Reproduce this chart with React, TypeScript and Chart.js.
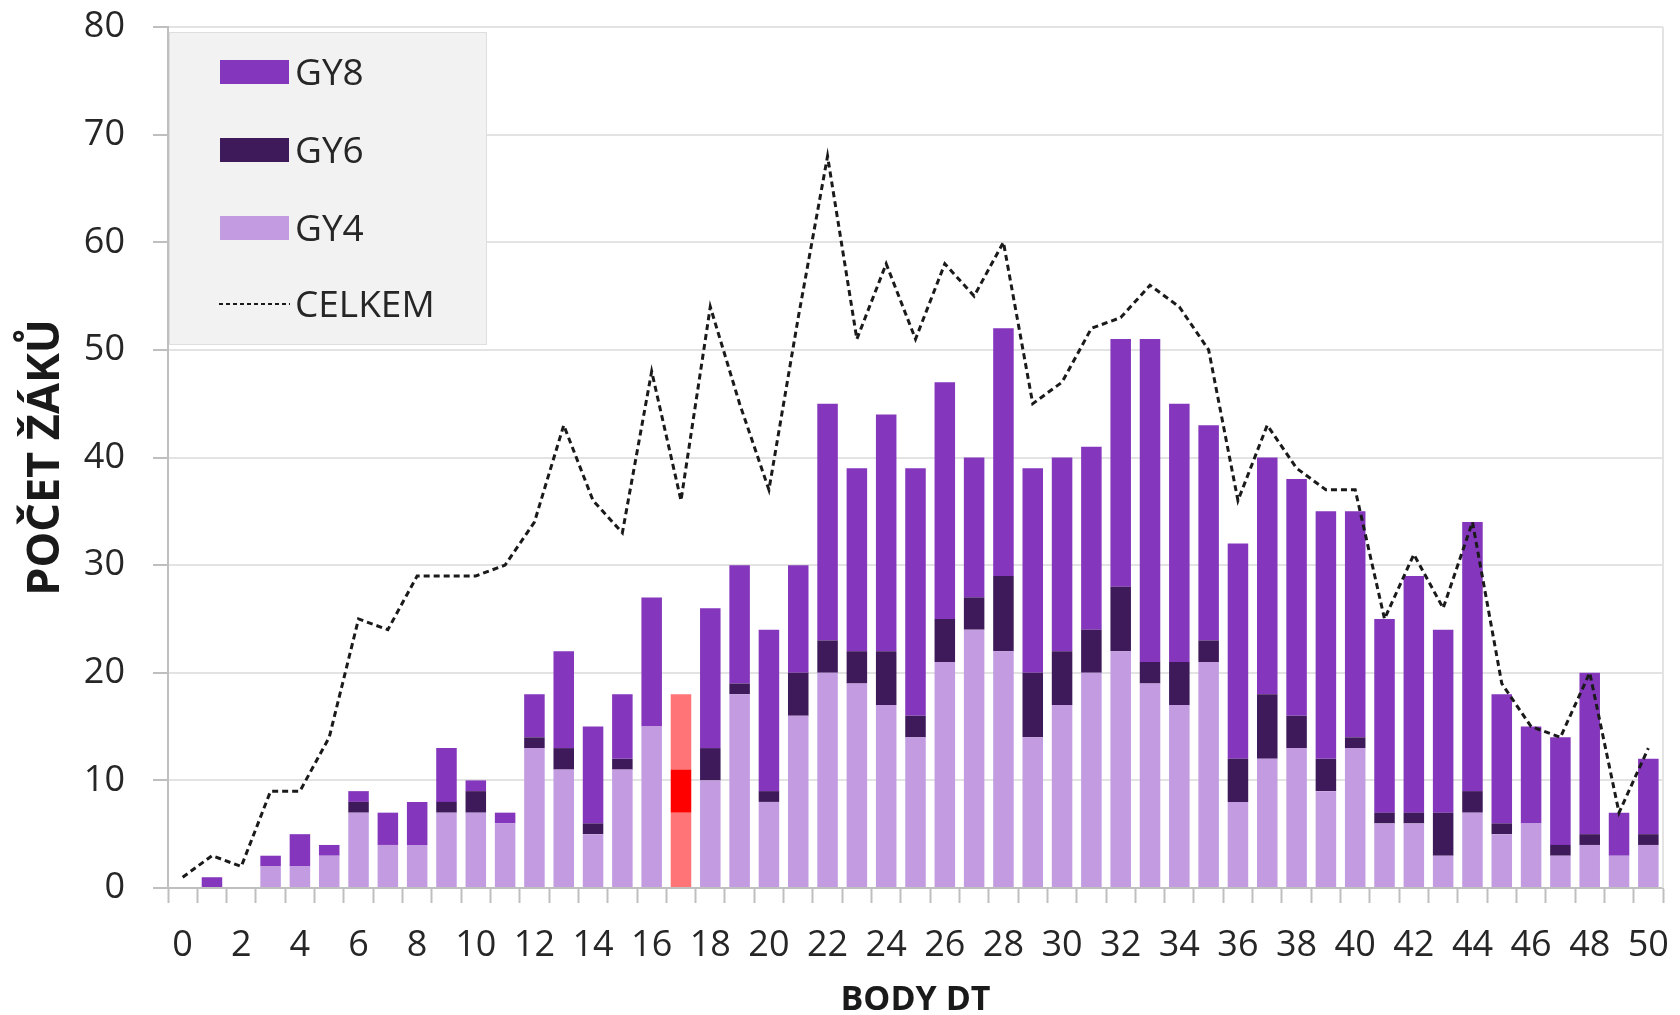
import React, { useEffect, useRef } from "react";
import { Chart, registerables } from "chart.js";

Chart.register(...registerables);

const categories: string[] = Array.from({ length: 51 }, (_, i) => String(i));

const gy4: number[] = [0, 0, 0, 2, 2, 3, 7, 4, 4, 7, 7, 6, 13, 11, 5, 11, 15, 7, 10, 18, 8, 16, 20, 19, 17, 14, 21, 24, 22, 14, 17, 20, 22, 19, 17, 21, 8, 12, 13, 9, 13, 6, 6, 3, 7, 5, 6, 3, 4, 3, 4];
const gy6: number[] = [0, 0, 0, 0, 0, 0, 1, 0, 0, 1, 2, 0, 1, 2, 1, 1, 0, 4, 3, 1, 1, 4, 3, 3, 5, 2, 4, 3, 7, 6, 5, 4, 6, 2, 4, 2, 4, 6, 3, 3, 1, 1, 1, 4, 2, 1, 0, 1, 1, 0, 1];
const gy8: number[] = [0, 1, 0, 1, 3, 1, 1, 3, 4, 5, 1, 1, 4, 9, 9, 6, 12, 7, 13, 11, 15, 10, 22, 17, 22, 23, 22, 13, 23, 19, 18, 17, 23, 30, 24, 20, 20, 22, 22, 23, 21, 18, 22, 17, 25, 12, 9, 10, 15, 4, 7];
const celkem: number[] = [1, 3, 2, 9, 9, 14, 25, 24, 29, 29, 29, 30, 34, 43, 36, 33, 48, 36, 54, 45, 37, 53, 68, 51, 58, 51, 58, 55, 60, 45, 47, 52, 53, 56, 54, 50, 36, 43, 39, 37, 37, 25, 31, 26, 34, 19, 15, 14, 20, 7, 13];

const highlightIndex = 17;
const yTicks = { min: 0, max: 80, step: 10 };

const C_GY8 = "#8436bc";
const C_GY6 = "#3f1a5b";
const C_GY4 = "#c39be1";
const C_HL_LIGHT = "#ff7577";
const C_HL = "#ff0000";
const FONT = "'Open Sans', 'Noto Sans', sans-serif";

const colorsFor = (base: string, hl: string) =>
  categories.map((_, i) => (i === highlightIndex ? hl : base));

const legendPlugin = {
  id: "boxLegend",
  afterDraw(chart: any) {
    const ctx = chart.ctx as CanvasRenderingContext2D;
    const { left } = chart.chartArea;
    ctx.save();
    const bx = left + 1;
    const by = 32;
    const bw = 487 - bx;
    const bh = 345 - by;
    ctx.fillStyle = "#f2f2f2";
    ctx.fillRect(bx, by, bw, bh);
    ctx.strokeStyle = "#dedede";
    ctx.lineWidth = 1;
    ctx.strokeRect(bx + 0.5, by + 0.5, bw - 1, bh - 1);

    const items = [
      { label: "GY8", color: C_GY8, y: 72, type: "box" },
      { label: "GY6", color: C_GY6, y: 150, type: "box" },
      { label: "GY4", color: C_GY4, y: 228, type: "box" },
      { label: "CELKEM", color: "#1a1a1a", y: 304, type: "line" },
    ];
    ctx.font = `37px ${FONT}`;
    ctx.textBaseline = "middle";
    ctx.textAlign = "left";
    for (const it of items) {
      if (it.type === "box") {
        ctx.fillStyle = it.color;
        ctx.fillRect(220, it.y - 12, 69, 24);
      } else {
        ctx.strokeStyle = it.color;
        ctx.lineWidth = 2;
        ctx.setLineDash([4, 3]);
        ctx.beginPath();
        ctx.moveTo(219, it.y);
        ctx.lineTo(290, it.y);
        ctx.stroke();
        ctx.setLineDash([]);
      }
      ctx.fillStyle = "#262626";
      ctx.fillText(it.label, 295, it.y + 2);
    }
    ctx.restore();
  },
};

const borderPlugin = {
  id: "rightBorder",
  beforeDatasetsDraw(chart: any) {
    const ctx = chart.ctx as CanvasRenderingContext2D;
    const { right, top, bottom } = chart.chartArea;
    ctx.save();
    ctx.strokeStyle = "#e3e3e3";
    ctx.lineWidth = 2;
    ctx.beginPath();
    ctx.moveTo(right, top);
    ctx.lineTo(right, bottom);
    ctx.stroke();
    ctx.restore();
  },
};

export default function App() {
  const ref = useRef<HTMLCanvasElement | null>(null);

  useEffect(() => {
    if (!ref.current) return;
    const chart = new Chart(ref.current, {
      type: "bar",
      data: {
        labels: categories,
        datasets: [
          {
            type: "line" as const,
            label: "CELKEM",
            data: celkem,
            borderColor: "#1a1a1a",
            borderWidth: 3,
            borderDash: [6, 4],
            pointRadius: 0,
            tension: 0,
            fill: false,
            stack: "line",
            order: 0,
          } as any,
          {
            label: "GY4",
            data: gy4,
            backgroundColor: colorsFor(C_GY4, C_HL_LIGHT),
            stack: "bars",
            order: 1,
          },
          {
            label: "GY6",
            data: gy6,
            backgroundColor: colorsFor(C_GY6, C_HL),
            stack: "bars",
            order: 1,
          },
          {
            label: "GY8",
            data: gy8,
            backgroundColor: colorsFor(C_GY8, C_HL_LIGHT),
            stack: "bars",
            order: 1,
          },
        ],
      },
      options: {
        responsive: false,
        animation: false,
        events: [],
        datasets: {
          bar: { barPercentage: 0.7, categoryPercentage: 1.0 },
        },
        layout: { padding: { top: 27, right: 17, left: 0, bottom: 0 } },
        plugins: {
          legend: { display: false },
          tooltip: { enabled: false },
          title: { display: false },
        },
        scales: {
          x: {
            stacked: true,
            afterFit: (s: any) => {
              s.height = 127;
              s.paddingLeft = 0;
              s.paddingRight = 0;
            },
            grid: {
              offset: true,
              drawOnChartArea: false,
              drawTicks: true,
              tickLength: 15,
              tickColor: "#bfbfbf",
              tickWidth: 2,
            },
            border: { display: true, color: "#bfbfbf", width: 2 },
            ticks: {
              autoSkip: false,
              maxRotation: 0,
              minRotation: 0,
              padding: 21,
              color: "#262626",
              font: { family: FONT, size: 36 },
              callback: (_v: any, i: number) => (i % 2 === 0 ? categories[i] : ""),
            },
            title: {
              display: true,
              text: "BODY DT",
              color: "#1a1a1a",
              font: { family: FONT, size: 34, weight: "bold" },
              padding: { top: 0, bottom: -6 },
            },
          },
          y: {
            stacked: true,
            min: yTicks.min,
            max: yTicks.max,
            afterFit: (s: any) => {
              s.width = 168;
              s.paddingTop = 0;
              s.paddingBottom = 0;
            },
            grid: {
              color: "#e3e3e3",
              lineWidth: 2,
              drawTicks: true,
              tickLength: 15,
              tickColor: "#bfbfbf",
              tickWidth: 2,
            },
            border: { display: true, color: "#bfbfbf", width: 2 },
            ticks: {
              stepSize: yTicks.step,
              padding: 28,
              color: "#262626",
              font: { family: FONT, size: 36 },
            },
            title: {
              display: true,
              text: "POČET ŽÁKŮ",
              color: "#1a1a1a",
              font: { family: FONT, size: 45, weight: "bold" },
              padding: { top: 19, bottom: 0 },
            },
          },
        },
      },
      plugins: [borderPlugin, legendPlugin],
    });
    return () => chart.destroy();
  }, []);

  return (
    <div
      style={{
        position: "fixed",
        left: 0,
        top: 0,
        width: 1680,
        height: 1015,
        background: "#ffffff",
      }}
    >
      <canvas ref={ref} width={1680} height={1015} style={{ display: "block" }} />
    </div>
  );
}
